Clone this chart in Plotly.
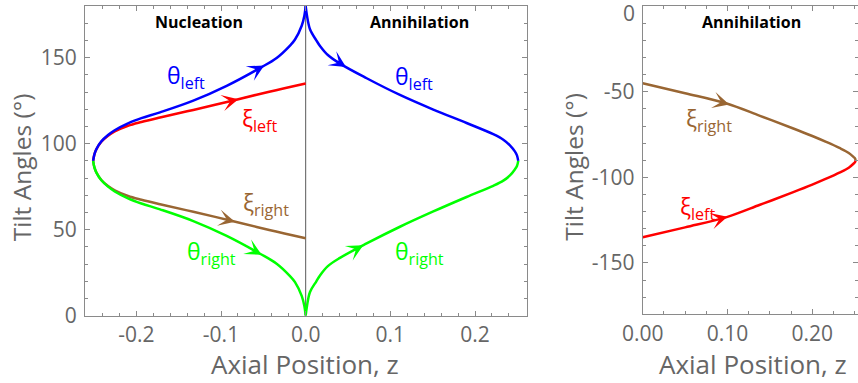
import numpy as np
import plotly.graph_objects as go

# ---------------- data ----------------
# Nucleation branch (z < 0): tilt angles of the two layers
z_nuc = [-0.251, -0.2495, -0.247, -0.2413, -0.2334, -0.2255, -0.2098, -0.194,
         -0.172, -0.1327, -0.0933, -0.0539, -0.0343, -0.0185, -0.0126,
         -0.0047, -0.0015, 0.0]
theta_left_nuc = [90.0, 93.8, 97.0, 101.3, 105.0, 107.8, 111.8, 114.8, 118.2,
                  125.0, 133.6, 144.0, 149.8, 157.0, 160.5, 168.5, 174.5, 180.0]
theta_right_nuc = [90.0, 86.2, 83.0, 78.7, 75.0, 72.2, 68.2, 65.2, 61.8,
                   55.0, 46.4, 36.0, 30.2, 23.0, 19.5, 11.5, 5.5, 0.0]

z_nuc_xi = [-0.251, -0.2495, -0.247, -0.2413, -0.2334, -0.2255, -0.2098, -0.194,
            -0.172, -0.1327, -0.0855, -0.043, 0.0]
xi_left_nuc = [90.0, 93.8, 96.9, 101.1, 104.6, 107.1, 110.4, 112.6, 115.2, 119.6,
               125.1, 130.2, 135.0]
xi_right_nuc = [90.0, 86.2, 83.1, 78.9, 75.4, 72.9, 69.6, 67.4, 64.8, 60.4,
                54.9, 49.8, 45.0]

# Annihilation branch (z > 0)
z_ann = [0.0, 0.0015, 0.0051, 0.0126, 0.0169, 0.0262, 0.0405, 0.072, 0.1113,
         0.1507, 0.19, 0.2215, 0.2334, 0.2412, 0.247, 0.2495, 0.251]
theta_left_ann = [180.0, 174.5, 166.5, 160.0, 156.8, 151.5, 146.5, 138.0, 128.3,
                  119.8, 112.0, 105.5, 102.3, 99.0, 95.5, 93.2, 90.0]
theta_right_ann = [0.0, 5.5, 13.8, 20.0, 23.4, 28.8, 33.6, 42.0, 51.7,
                   60.6, 69.0, 75.5, 78.5, 81.5, 85.0, 87.0, 90.0]

# Annihilation branch of the xi angles
z_ann_xi = [0.0, 0.05, 0.099, 0.1383, 0.1776, 0.2, 0.217, 0.232, 0.243, 0.2485,
            0.2505, 0.251]
xi_right_ann = [-45.0, -50.8, -56.8, -64.0, -71.4, -75.8, -79.4, -82.8, -85.7, -88.0,
                -89.0, -90.0]
xi_left_ann = [-135.0, -129.2, -123.2, -116.0, -108.6, -104.2, -100.6, -97.2, -94.3,
               -92.0, -91.0, -90.0]

# z positions of the direction arrows along each curve
arrow_theta_left_nuc = -0.049
arrow_xi_left_nuc = -0.0795
arrow_xi_right_nuc = -0.0835
arrow_theta_right_nuc = -0.052
arrow_theta_left_ann = 0.0476
arrow_theta_right_ann = 0.068
arrow_xi_right_ann = 0.102
arrow_xi_left_ann = 0.100

# axes
x_range_main = [-0.2606, 0.261]
y_range_main = [0, 180]
x_ticks_main = [-0.2, -0.1, 0.0, 0.1, 0.2]
x_ticktext_main = ["-0.2", "-0.1", "0.0", "0.1", "0.2"]
y_ticks_main = [0, 50, 100, 150]
y_ticktext_main = ["0", "50", "100", "150"]

x_range_xi = [0.0, 0.2539]
y_range_xi = [-180, 0]
x_ticks_xi = [0.0, 0.1, 0.2]
x_ticktext_xi = ["0.00", "0.10", "0.20"]
y_ticks_xi = [-150, -100, -50, 0]
y_ticktext_xi = ["-150", "-100", "-50", ""]

# ---------------- style ----------------
BLUE = "#0000ff"
RED = "#ff0000"
GREEN = "#00ff00"
BROWN = "#996633"
FRAME = "#8a8a8a"
LABEL = "#666666"
FONT = "Open Sans"
LW = 2.5

W, H = 858, 383


def px_x(p):
    return p / W


def px_y(p):
    return 1 - p / H


fig = go.Figure()


def curve(z, th, color, xa="x", ya="y"):
    fig.add_trace(go.Scatter(x=z, y=th, mode="lines", xaxis=xa, yaxis=ya,
                             line=dict(color=color, width=LW, shape="spline", smoothing=1.0),
                             hoverinfo="skip", showlegend=False))


# xi curves underneath theta curves
curve(z_nuc_xi, xi_left_nuc, RED)
curve(z_nuc_xi, xi_right_nuc, BROWN)
curve(z_nuc, theta_left_nuc, BLUE)
curve(z_nuc, theta_right_nuc, GREEN)
curve(z_ann, theta_left_ann, BLUE)
curve(z_ann, theta_right_ann, GREEN)
curve(z_ann_xi, xi_right_ann, BROWN, "x2", "y2")
curve(z_ann_xi, xi_left_ann, RED, "x2", "y2")

annotations = []


def arrow(z_tip, z, th, color, xref="x", yref="y", back=0.012):
    y_tip = float(np.interp(z_tip, z, th))
    z_tail = z_tip - back
    y_tail = float(np.interp(z_tail, z, th))
    annotations.append(dict(x=z_tip, y=y_tip, ax=z_tail, ay=y_tail,
                            xref=xref, yref=yref, axref=xref, ayref=yref,
                            text="", showarrow=True, arrowhead=3, arrowsize=1.1,
                            arrowwidth=LW, arrowcolor=color, standoff=0, startstandoff=0))


arrow(arrow_theta_left_nuc, z_nuc, theta_left_nuc, BLUE)
arrow(arrow_xi_left_nuc, z_nuc_xi, xi_left_nuc, RED)
arrow(arrow_xi_right_nuc, z_nuc_xi, xi_right_nuc, BROWN)
arrow(arrow_theta_right_nuc, z_nuc, theta_right_nuc, GREEN)
arrow(arrow_theta_left_ann, z_ann, theta_left_ann, BLUE)
arrow(arrow_theta_right_ann, z_ann, theta_right_ann, GREEN)
arrow(arrow_xi_right_ann, z_ann_xi, xi_right_ann, BROWN, "x2", "y2")
arrow(arrow_xi_left_ann, z_ann_xi, xi_left_ann, RED, "x2", "y2")


def label(text, x, y, color, xref="x", yref="y"):
    annotations.append(dict(text=text, x=x, y=y, xref=xref, yref=yref, showarrow=False,
                            xanchor="center", yanchor="middle",
                            font=dict(family=FONT, size=23, color=color)))


label("θ<sub>left</sub>", -0.1413, 138.8, BLUE)
label("ξ<sub>left</sub>", -0.054, 113.8, RED)
label("ξ<sub>right</sub>", -0.0469, 65.5, BROWN)
label("θ<sub>right</sub>", -0.111, 37.0, GREEN)
label("θ<sub>left</sub>", 0.1279, 138.2, BLUE)
label("θ<sub>right</sub>", 0.1344, 36.5, GREEN)
label("ξ<sub>right</sub>", 0.0782, -65.9, BROWN, "x2", "y2")
label("ξ<sub>left</sub>", 0.0652, -117.3, RED, "x2", "y2")


def heading(text, x, y, xref="x", yref="y"):
    annotations.append(dict(text="<b>%s</b>" % text, x=x, y=y, xref=xref, yref=yref,
                            showarrow=False, xanchor="center", yanchor="middle",
                            font=dict(family=FONT, size=16, color="black")))


heading("Nucleation", -0.1255, 170.6)
heading("Annihilation", 0.1341, 170.6)
heading("Annihilation", 0.128, -9.2, "x2", "y2")

# axis titles
for cx, cy in [(21.8, 167.5), (574.1, 166.7)]:
    annotations.append(dict(text="Tilt Angles (°)", x=px_x(cx), y=px_y(cy), xref="paper",
                            yref="paper", showarrow=False, textangle=-90,
                            xanchor="center", yanchor="middle",
                            font=dict(family=FONT, size=24.5, color=LABEL)))
for cx, cy in [(304.5, 364.0), (752.8, 364.0)]:
    annotations.append(dict(text="Axial Position, z", x=px_x(cx), y=px_y(cy), xref="paper",
                            yref="paper", showarrow=False, xanchor="center", yanchor="middle",
                            font=dict(family=FONT, size=26, color=LABEL)))

# top tick label of the xi panel sits just inside the frame
annotations.append(dict(text="0", x=px_x(636.7), y=0, xref="paper", yref="y2",
                        showarrow=False, xanchor="right", yanchor="middle", yshift=-7,
                        font=dict(family=FONT, size=21, color=LABEL)))

axis_common = dict(showline=True, linecolor=FRAME, linewidth=1, mirror="ticks",
                   ticks="inside", ticklen=5, tickcolor=FRAME, tickwidth=1,
                   showgrid=False, zeroline=False, tickmode="array", automargin=False,
                   tickfont=dict(family=FONT, size=21, color=LABEL))

fig.update_layout(
    width=W, height=H, margin=dict(l=0, r=0, t=0, b=0, autoexpand=False),
    plot_bgcolor="white", paper_bgcolor="white", showlegend=False,
    xaxis=dict(axis_common, domain=[px_x(85), px_x(526.7)], range=x_range_main,
               tickvals=x_ticks_main, ticktext=x_ticktext_main, anchor="y",
               ticklabelstandoff=0,
               minor=dict(ticks="inside", ticklen=3, tickcolor=FRAME, dtick=0.02, tick0=0)),
    yaxis=dict(axis_common, domain=[px_y(315.7), px_y(6)], range=y_range_main,
               tickvals=y_ticks_main, ticktext=y_ticktext_main, anchor="x",
               ticklabelstandoff=3,
               minor=dict(ticks="inside", ticklen=3, tickcolor=FRAME, dtick=10, tick0=0)),
    xaxis2=dict(axis_common, domain=[px_x(642.7), 1.0], range=x_range_xi,
                tickvals=x_ticks_xi, ticktext=x_ticktext_xi, anchor="y2",
                ticklabelstandoff=0,
                minor=dict(ticks="inside", ticklen=3, tickcolor=FRAME, dtick=0.025, tick0=0)),
    yaxis2=dict(axis_common, domain=[px_y(314.3), px_y(6.3)], range=y_range_xi,
                tickvals=y_ticks_xi, ticktext=y_ticktext_xi, anchor="x2",
                ticklabelstandoff=3,
                minor=dict(ticks="inside", ticklen=3, tickcolor=FRAME, dtick=10, tick0=0)),
    annotations=annotations,
    shapes=[dict(type="line", xref="x", yref="y", x0=0, x1=0, y0=0, y1=180,
                 line=dict(color="#5a5a5a", width=1), layer="below")],
)

fig.write_html("out.html")
